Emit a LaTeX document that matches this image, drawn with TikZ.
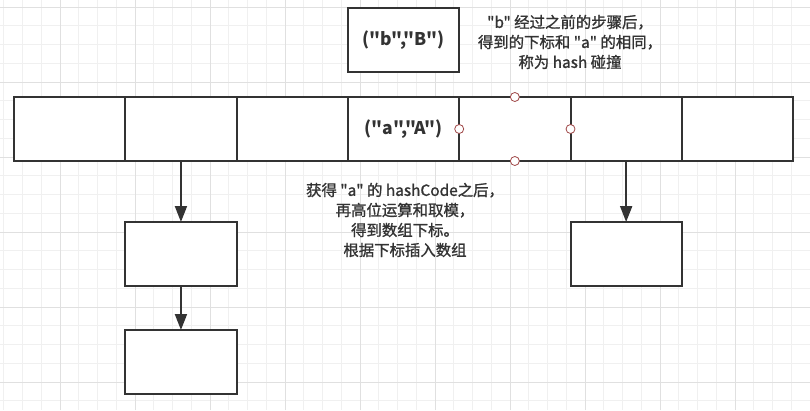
\documentclass[tikz,border=0pt]{standalone}
\usepackage{fontspec}
\setmainfont{Noto Sans CJK SC}[Ligatures=TeXOff]
\newfontfamily\notefont{Noto Sans CJK SC}[Ligatures=TeXOff, FakeBold=1.2]
\usepackage{tikz}
\usetikzlibrary{positioning,arrows.meta}

\definecolor{ink}{HTML}{333333}
\definecolor{gridminor}{HTML}{F0F0F0}
\definecolor{gridmajor}{HTML}{E0E0E0}
\definecolor{handle}{HTML}{A04848}

\tikzset{
  slot/.style = {draw=ink, line width=2pt, fill=white, outer sep=0pt,
                 minimum width=111.3pt, minimum height=64pt, inner sep=0pt,
                 text=ink, font=\fontsize{17.5}{20}\selectfont\bfseries},
  link/.style = {draw=ink, line width=2pt,
                 -{Triangle[length=16pt, width=12pt]}},
  note/.style = {align=center, text=ink, inner sep=0pt,
                 font=\notefont\fontsize{15.4}{20}\selectfont},
  grip/.style = {circle, draw=handle, fill=white, line width=0.8pt,
                 minimum size=9pt, inner sep=0pt},
}

\begin{document}
\begin{tikzpicture}[x=1pt, y=1pt]
  \useasboundingbox (0,0) rectangle (810,410);
  \fill[white] (0,0) rectangle (810,410);

  % background grid
  \foreach \i in {0,...,43} {
    \draw[gridminor, line width=0.8pt] ({3.75+18.75*\i},0) -- ++(0,410);
  }
  \foreach \i in {0,...,22} {
    \draw[gridminor, line width=0.8pt] (0,{403-18.75*\i}) -- ++(810,0);
  }
  \foreach \i in {0,...,10} {
    \draw[gridmajor, line width=0.8pt] ({60+75*\i-75},0) -- ++(0,410);
  }
  \foreach \i in {0,...,5} {
    \draw[gridmajor, line width=0.8pt] (0,{403-75*\i}) -- ++(810,0);
  }

  % the table
  \node[slot] (c1) at (69.65,281) {};
  \node[slot, right=0pt of c1] (c2) {};
  \node[slot, right=0pt of c2] (c3) {};
  \node[slot, right=0pt of c3] (c4) {("a","A")};
  \node[slot, right=0pt of c4] (c5) {};
  \node[slot, right=0pt of c5] (c6) {};
  \node[slot, right=0pt of c6] (c7) {};

  \node[slot, above=25pt of c4] (bB) {("b","B")};

  \node[slot, below=61pt of c2] (n1) {};
  \node[slot, below=44pt of n1] (n2) {};
  \node[slot, below=61pt of c6] (n3) {};

  \draw[link] (c2) -- (n1);
  \draw[link] (n1) -- (n2);
  \draw[link] (c6) -- (n3);

  % selection handles
  \foreach \a in {north,south,west,east} {
    \node[grip] (g-\a) at (c5.\a) {};
  }

  \node[note] (hit) at (570,368)
    {"b" 经过之前的步骤后，\\得到的下标和 "a" 的相同，\\称为 hash 碰撞};
  \node[note] (put) at (405,190)
    {获得 "a" 的 hashCode之后，\\再高位运算和取模，\\得到数组下标。\\根据下标插入数组};
\end{tikzpicture}
\end{document}
